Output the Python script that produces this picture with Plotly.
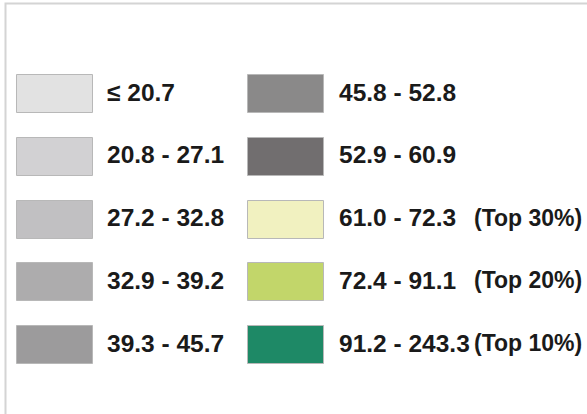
import plotly.graph_objects as go

# Class breaks and their fill colours, listed column by column
labels = ["≤ 20.7", "20.8 - 27.1", "27.2 - 32.8", "32.9 - 39.2", "39.3 - 45.7",
          "45.8 - 52.8", "52.9 - 60.9", "61.0 - 72.3", "72.4 - 91.1", "91.2 - 243.3"]
suffixes = ["", "", "", "", "", "", "", "(Top 30%)", "(Top 20%)", "(Top 10%)"]
colors = ["#e2e2e2", "#d2d1d3", "#c1c0c2", "#adacad", "#9c9b9c",
          "#8a8989", "#716e6f", "#f1f1c0", "#c2d66a", "#1e8966"]

W, H = 587, 414
ROWS = 5
col_x = [17, 248]          # left edge of swatches per column
text_x = [105, 337]        # left edge of labels per column
suffix_right = 584         # right edge of the "(Top n%)" notes
row_y0, row_step = 94, 62.8
sw_w, sw_h = 76, 38

cols = [i // ROWS for i in range(len(labels))]
rows = [i % ROWS for i in range(len(labels))]
yc = [row_y0 + r * row_step for r in rows]

fig = go.Figure()
fig.add_trace(go.Bar(
    orientation="h",
    y=yc,
    x=[sw_w] * len(labels),
    base=[col_x[c] for c in cols],
    width=sw_h,
    marker=dict(color=colors, line=dict(color="#b8b8b8", width=1)),
    hoverinfo="skip",
    showlegend=False,
))

font = dict(family="Liberation Sans, Arial, sans-serif", size=24.5, color="#1a1a1a")
note_font = dict(family="Liberation Sans, Arial, sans-serif", size=23, color="#1a1a1a")
for lab, c, y in zip(labels, cols, yc):
    fig.add_annotation(x=text_x[c], y=y, text="<b>%s</b>" % lab, showarrow=False,
                       xanchor="left", yanchor="middle", yshift=2, font=font)
for suf, y in zip(suffixes, yc):
    if suf:
        fig.add_annotation(x=suffix_right, y=y, text="<b>%s</b>" % suf, showarrow=False,
                           xanchor="right", yanchor="middle", yshift=2, font=note_font)

# Frame around the legend panel
fig.add_shape(type="rect", x0=5.5, x1=W + 20, y0=3.5, y1=H + 20,
              line=dict(color="#d4d4d4", width=2))

fig.update_layout(
    width=W, height=H,
    margin=dict(l=0, r=0, t=0, b=0),
    paper_bgcolor="white", plot_bgcolor="white",
    xaxis=dict(range=[0, W], visible=False, fixedrange=True),
    yaxis=dict(range=[H, 0], visible=False, fixedrange=True),
    bargap=0,
)

fig.write_html("out.html")
